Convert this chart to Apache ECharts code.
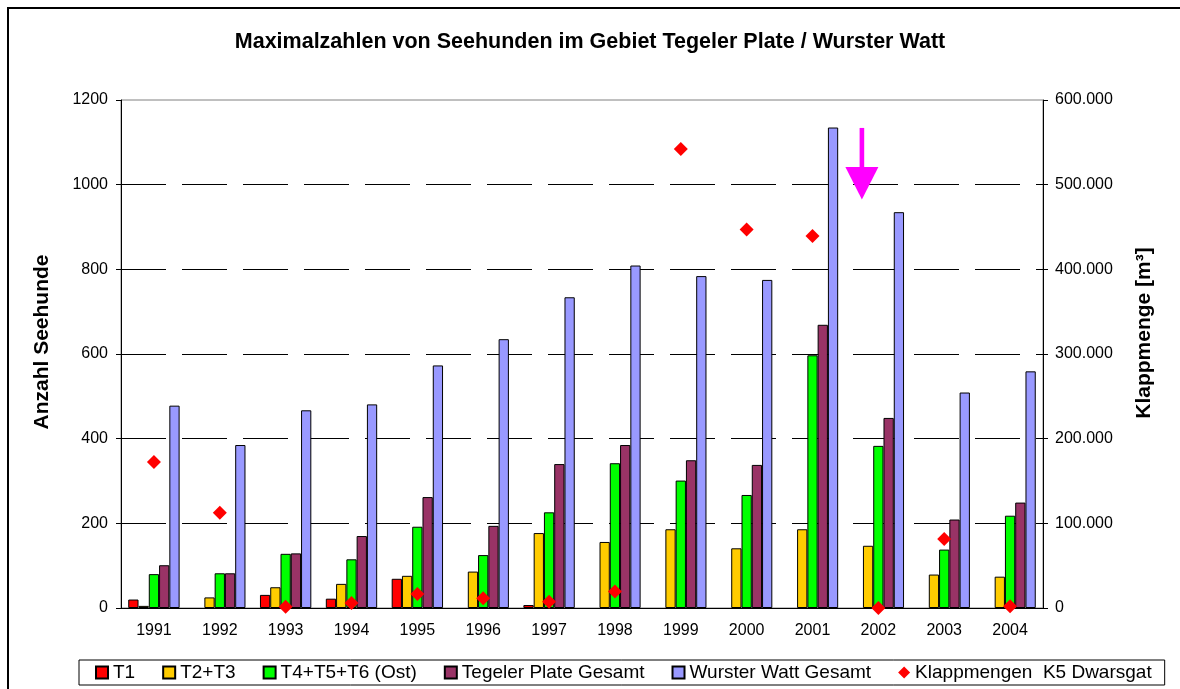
<!DOCTYPE html>
<html>
<head>
<meta charset="utf-8">
<script src="https://cdn.jsdelivr.net/npm/echarts@6/dist/echarts.min.js"></script>
<style>
  html, body { margin: 0; padding: 0; background: #fff; }
  #chart { width: 1180px; height: 689px; }
</style>
</head>
<body>
<div id="chart"></div>
<script>
// ----- data -----
var years = ['1991', '1992', '1993', '1994', '1995', '1996', '1997', '1998', '1999', '2000', '2001', '2002', '2003', '2004'];
var t1 = [20, null, 31, 22, 69, null, 7, null, null, null, null, null, null, null];
var t2t3 = [5, 25, 49, 57, 76, 86, 177, 156, 186, 141, 186, 147, 79, 74];
var t4t5t6 = [80, 82, 128, 115, 192, 125, 226, 342, 301, 267, 597, 383, 138, 218];
var tegeler = [101, 82, 129, 170, 262, 194, 340, 385, 349, 338, 669, 449, 209, 249];
var wurster = [478, 385, 467, 481, 573, 635, 734, 809, 784, 775, 1135, 935, 509, 559];
var klapp = [172500, 112500, 1500, 6000, 16500, 11500, 7500, 19500, 542000, 447000, 439500, 0, 81500, 2000];

// arrow marker over 2002 (left axis units)
var arrowYear = '2002';
var arrowTop = 1134, arrowHeadTop = 1042, arrowTip = 965;

var font = '"Liberation Sans", Arial, sans-serif';
var black = '#000';

function dots(v) {
  return String(v).replace(/\B(?=(\d{3})+(?!\d))/g, '.');
}

function barSeries(name, data, color) {
  return {
    name: name,
    type: 'bar',
    data: data,
    barGap: '0%',
    barCategoryGap: '22%',
    itemStyle: { color: color, borderColor: black, borderWidth: 1 }
  };
}

var chart = echarts.init(document.getElementById('chart'), null, { renderer: 'canvas' });
chart.setOption({
  animation: false,
  backgroundColor: '#fff',
  title: {
    text: 'Maximalzahlen von Seehunden im Gebiet Tegeler Plate / Wurster Watt',
    left: 'center',
    top: 31,
    padding: 0,
    textStyle: { fontFamily: font, fontSize: 21.5, fontWeight: 'bold', color: black }
  },
  grid: {
    left: 121, right: 137, top: 100, bottom: 81,
    show: true, borderColor: '#808080', borderWidth: 1
  },
  legend: {
    left: 79,
    top: 660,
    padding: [3, 13, 3, 16],
    itemGap: 27,
    itemWidth: 12,
    itemHeight: 12,
    borderColor: black,
    borderWidth: 1,
    textStyle: { fontFamily: font, fontSize: 19, color: black },
    data: [
      { name: 'T1', icon: 'rect' },
      { name: 'T2+T3', icon: 'rect' },
      { name: 'T4+T5+T6 (Ost)', icon: 'rect' },
      { name: 'Tegeler Plate Gesamt', icon: 'rect' },
      { name: 'Wurster Watt Gesamt', icon: 'rect' },
      { name: 'Klappmengen  K5 Dwarsgat', icon: 'diamond' }
    ]
  },
  xAxis: {
    type: 'category',
    data: years,
    axisLine: { lineStyle: { color: black } },
    axisTick: { length: 5, lineStyle: { color: black } },
    axisLabel: { color: black, fontFamily: font, fontSize: 16, margin: 15 }
  },
  yAxis: [{
    type: 'value',
    min: 0, max: 1200, interval: 200,
    name: 'Anzahl Seehunde',
    nameLocation: 'middle',
    nameRotate: 90,
    nameGap: 68,
    nameMoveOverlap: false,
    nameTextStyle: { fontFamily: font, fontSize: 21, fontWeight: 'bold', color: black, padding: [0, 0, 0, 24] },
    axisLine: { show: true, lineStyle: { color: black } },
    axisTick: { show: true, length: 5, lineStyle: { color: black } },
    axisLabel: { color: black, fontFamily: font, fontSize: 16, margin: 13, formatter: function(v) { return String(v); } },
    splitLine: { showMaxLine: false, lineStyle: { color: black, width: 1, type: [45, 16] } }
  }, {
    type: 'value',
    position: 'right',
    min: 0, max: 600000, interval: 100000,
    name: 'Klappmenge [m³]',
    nameLocation: 'middle',
    nameRotate: 90,
    nameGap: 91,
    nameMoveOverlap: false,
    nameTextStyle: { fontFamily: font, fontSize: 21, fontWeight: 'bold', color: black, padding: [0, 0, 0, 42] },
    axisLine: { show: true, lineStyle: { color: black } },
    axisTick: { show: true, length: 5, lineStyle: { color: black } },
    axisLabel: { color: black, fontFamily: font, fontSize: 16, margin: 12, formatter: dots },
    splitLine: { show: false }
  }],
  series: [
    barSeries('T1', t1, '#ff0000'),
    barSeries('T2+T3', t2t3, '#ffcc00'),
    barSeries('T4+T5+T6 (Ost)', t4t5t6, '#00ff00'),
    barSeries('Tegeler Plate Gesamt', tegeler, '#993366'),
    barSeries('Wurster Watt Gesamt', wurster, '#9999ff'),
    {
      name: 'Klappmengen  K5 Dwarsgat',
      type: 'scatter',
      yAxisIndex: 1,
      data: klapp,
      symbol: 'diamond',
      symbolSize: 14,
      z: 5,
      itemStyle: { color: '#ff0000', opacity: 1 }
    }
  ]
});

// outer frame + magenta arrow, placed through the axes
var band = chart.convertToPixel({ xAxisIndex: 0 }, '1992') - chart.convertToPixel({ xAxisIndex: 0 }, '1991');
var ax = chart.convertToPixel({ xAxisIndex: 0 }, arrowYear) - band * 0.25;
var yTop = chart.convertToPixel({ yAxisIndex: 0 }, arrowTop);
var yHead = chart.convertToPixel({ yAxisIndex: 0 }, arrowHeadTop);
var yTip = chart.convertToPixel({ yAxisIndex: 0 }, arrowTip);
chart.setOption({
  graphic: [
    {
      type: 'rect', silent: true,
      shape: { x: 8, y: 8, width: 1300, height: 800 },
      style: { fill: 'none', stroke: black, lineWidth: 2 }
    },
    {
      type: 'rect', silent: true, z: 10,
      shape: { x: ax - 2.3, y: yTop, width: 4.6, height: yHead - yTop + 1 },
      style: { fill: '#ff00ff' }
    },
    {
      type: 'polygon', silent: true, z: 10,
      shape: { points: [[ax - 16.5, yHead], [ax + 16.5, yHead], [ax, yTip]] },
      style: { fill: '#ff00ff' }
    }
  ]
});
</script>
</body>
</html>
